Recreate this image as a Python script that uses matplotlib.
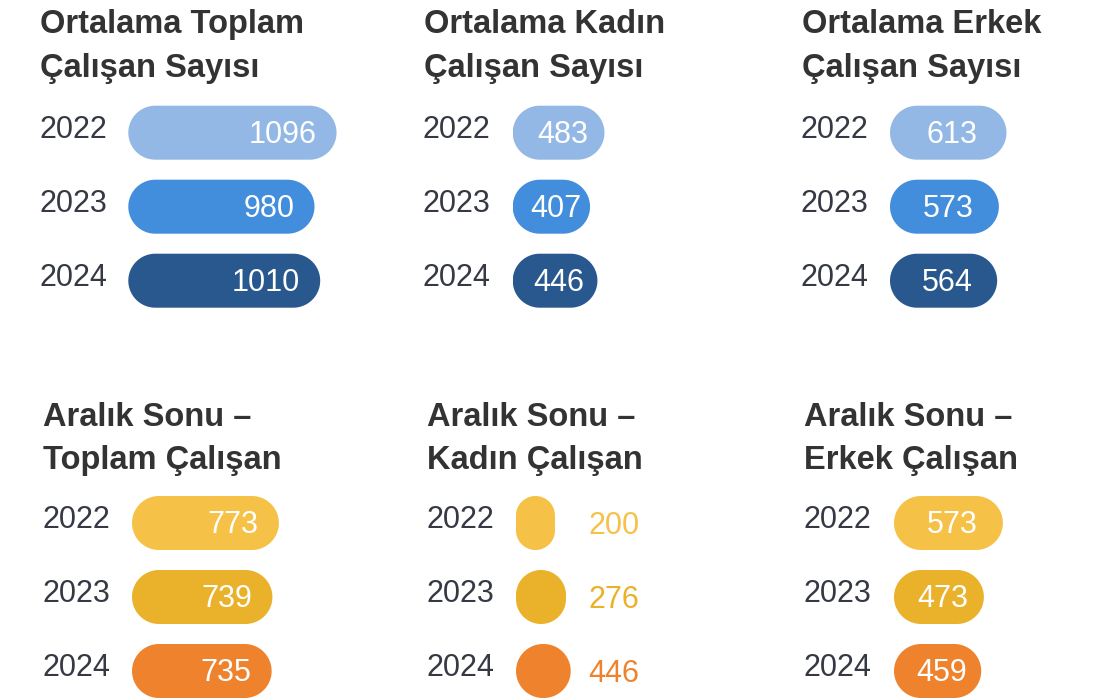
import matplotlib
matplotlib.use("Agg")
import numpy as np
import matplotlib.pyplot as plt
from matplotlib.patches import Polygon

plt.rcParams['font.family'] = ['Liberation Sans', 'DejaVu Sans']

# data ------------------------------------------------------------------
yillar = ['2022', '2023', '2024']

basliklar = ['Ortalama Toplam\nÇalışan Sayısı',
             'Ortalama Kadın\nÇalışan Sayısı',
             'Ortalama Erkek\nÇalışan Sayısı',
             'Aralık Sonu –\nToplam Çalışan',
             'Aralık Sonu –\nKadın Çalışan',
             'Aralık Sonu –\nErkek Çalışan']

ort_toplam = [1096, 980, 1010]
ort_kadin = [483, 407, 446]
ort_erkek = [613, 573, 564]
aralik_toplam = [773, 739, 735]
aralik_kadin = [200, 276, 446]
aralik_erkek = [573, 473, 459]
# bar lengths of the small "Aralik Sonu - Kadin" pills as drawn in the picture
aralik_kadin_bar = [205, 263, 288]

mavi = ['#93b8e6', '#438ddd', '#29588e']
sari = ['#f5c146', '#eab22a', '#ef832d']

# layout (pixels) --------------------------------------------------------
W, H = 1118, 699
px_birim = 0.19      # pixels per employee
satir = 74           # row pitch
bar_h = 54
yazi_renk = '#333333'
yil_renk = '#353944'
fs = 22
fs_baslik = 23.5


def hap(ax, b, yc, renk):
    # pill shape: rounded rectangle with full round ends (circular in pixels)
    h_y = bar_h / satir
    h_x = bar_h / px_birim
    rx = min(b, h_x) / 2
    ry = rx * px_birim / satir
    merkezler = [(b - rx, yc + h_y / 2 - ry, 0),
                 (rx, yc + h_y / 2 - ry, 90),
                 (rx, yc - h_y / 2 + ry, 180),
                 (b - rx, yc - h_y / 2 + ry, 270)]
    pts = []
    for cx, cy, a0 in merkezler:
        t = np.radians(np.linspace(a0, a0 + 90, 25))
        pts += list(zip(cx + rx * np.cos(t), cy + ry * np.sin(t)))
    ax.add_patch(Polygon(pts, closed=True, fc=renk, ec='none'))


def ciz_panel(baslik, x_bar, x_yazi, y_baslik, y_satir0, degerler, renkler, bar_len=None):
    if bar_len is None:
        bar_len = degerler
    # title, two lines
    for i, satir_yazi in enumerate(baslik.split('\n')):
        fig.text(x_yazi / W, 1 - (y_baslik + i * 44) / H, satir_yazi,
                 fontsize=fs_baslik, fontweight='bold', color=yazi_renk,
                 ha='left', va='baseline')

    ax_w = 330
    ax = fig.add_axes([x_bar / W, 1 - (y_satir0 - satir / 2 + 3 * satir) / H,
                       ax_w / W, 3 * satir / H])
    ax.set_xlim(0, ax_w / px_birim)
    ax.set_ylim(2.5, -0.5)
    ax.axis('off')

    for i, (yil, v, b, c) in enumerate(zip(yillar, degerler, bar_len, renkler)):
        hap(ax, b, i, c)
        ax.text(-(x_bar - x_yazi + 1) / px_birim, i + 5 / satir, yil,
                fontsize=fs, color=yil_renk, ha='left', va='baseline')
        if b != v:
            # value written next to the pill
            ax.text(72 / px_birim, i + 11 / satir, str(v), fontsize=fs,
                    color=c, ha='left', va='baseline')
        elif v * px_birim > 130:
            ax.text(v - 20 / px_birim, i + 10 / satir, str(v), fontsize=fs,
                    color='white', ha='right', va='baseline')
        else:
            ax.text(v / 2 + 4 / px_birim, i + 10 / satir, str(v), fontsize=fs,
                    color='white', ha='center', va='baseline')


fig = plt.figure(figsize=(W / 100, H / 100), dpi=100)

ciz_panel(basliklar[0], 128.3, 40, 33, 132.7, ort_toplam, mavi)
ciz_panel(basliklar[1], 512.7, 424, 33, 132.7, ort_kadin, mavi)
ciz_panel(basliklar[2], 890, 801.5, 33, 132.7, ort_erkek, mavi)
ciz_panel(basliklar[3], 132, 43, 425.5, 523, aralik_toplam, sari)
ciz_panel(basliklar[4], 516, 427, 425.5, 523, aralik_kadin, sari, aralik_kadin_bar)
ciz_panel(basliklar[5], 894, 804.5, 425.5, 523, aralik_erkek, sari)

fig.savefig('out.png', dpi=100)
